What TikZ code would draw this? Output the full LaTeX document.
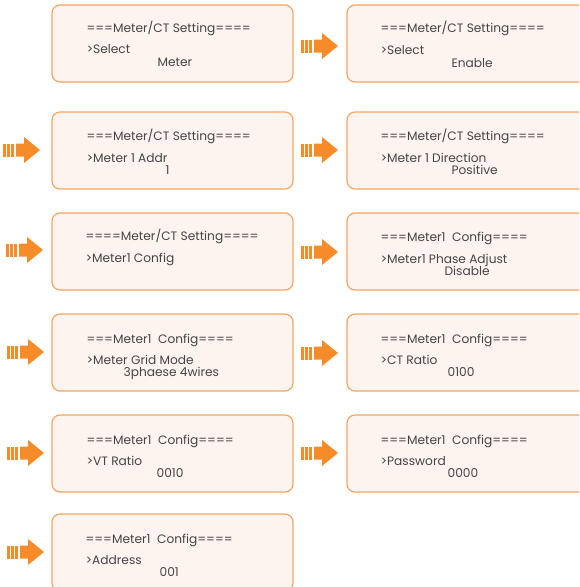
\documentclass[tikz,border=0pt]{standalone}
\usepackage{fontspec}
\setmainfont{Poppins}
\usetikzlibrary{calc}

\definecolor{boxline}{HTML}{F6A560}
\definecolor{boxfill}{HTML}{FDF3EF}
\definecolor{arrowor}{HTML}{F68B2A}
\definecolor{lcdtext}{HTML}{454545}

% striped block arrow, #1 = left end, #2 = centre height
\newcommand{\nextarrow}[2]{%
  \fill[arrowor] (#1,#2-6.5) rectangle ++(3,13);
  \fill[arrowor] (#1+4,#2-6.5) rectangle ++(3,13);
  \fill[arrowor] (#1+8,#2-6.5) rectangle ++(3,13);
  \fill[arrowor] (#1+13,#2-6.5) -- (#1+21,#2-6.5) -- (#1+21,#2-13)
    -- (#1+37,#2) -- (#1+21,#2+13) -- (#1+21,#2+6.5) -- (#1+13,#2+6.5) -- cycle;
}

\begin{document}
\begin{tikzpicture}[x=1pt, y=-1pt,
  screen/.style={draw=boxline, line width=1.2pt, fill=boxfill, rounded corners=8pt,
    minimum width=241pt, minimum height=77pt, inner sep=0pt},
  txt/.style={anchor=base west, inner sep=0pt, text=lcdtext,
    font=\fontsize{12.2}{14}\selectfont}]
  \clip (0,0) rectangle (579,587);
  \useasboundingbox (0,0) rectangle (579,587);

  % Screens, left column
  \node[screen] (s1) at (172.5,43.5) {};
  \node[screen] (s3) at (172.5,150.5) {};
  \node[screen] (s5) at (172.5,251.5) {};
  \node[screen] (s7) at (172.5,352.5) {};
  \node[screen] (s9) at (172.5,453.5) {};
  \node[screen] (s11) at (172.5,552.5) {};
  % Screens, right column
  \node[screen] (s2) at (467.5,43.5) {};
  \node[screen] (s4) at (467.5,150.5) {};
  \node[screen] (s6) at (467.5,251.5) {};
  \node[screen] (s8) at (467.5,352.5) {};
  \node[screen] (s10) at (467.5,453.5) {};

  % Texts
  \node[txt] (s1a) at ($(s1.north west)+(35,28.5)$) {===Meter/CT Setting====};
  \node[txt] (s1b) at ($(s1.north west)+(35,49.5)$) {>Select};
  \node[txt] (s1c) at ($(s1.north west)+(106,62)$) {Meter};

  \node[txt] (s2a) at ($(s2.north west)+(34,28.5)$) {===Meter/CT Setting====};
  \node[txt] (s2b) at ($(s2.north west)+(34,50)$) {>Select};
  \node[txt] (s2c) at ($(s2.north west)+(105,63)$) {Enable};

  \node[txt] (s3a) at ($(s3.north west)+(35,29)$) {===Meter/CT Setting====};
  \node[txt] (s3b) at ($(s3.north west)+(35,51)$) {>Meter 1 Addr};
  \node[txt] (s3c) at ($(s3.north west)+(114,63.5)$) {1};

  \node[txt] (s4a) at ($(s4.north west)+(34,29)$) {===Meter/CT Setting====};
  \node[txt] (s4b) at ($(s4.north west)+(34,51)$) {>Meter 1 Direction};
  \node[txt] (s4c) at ($(s4.north west)+(105,63.5)$) {Positive};

  \node[txt] (s5a) at ($(s5.north west)+(34,28.5)$) {====Meter/CT Setting====};
  \node[txt] (s5b) at ($(s5.north west)+(34,50)$) {>Meter1 Config};

  \node[txt] (s6a) at ($(s6.north west)+(34,29)$) {===Meter1\ \ Config====};
  \node[txt] (s6b) at ($(s6.north west)+(34,51)$) {>Meter1 Phase Adjust};
  \node[txt] (s6c) at ($(s6.north west)+(98,63.5)$) {Disable};

  \node[txt] (s7a) at ($(s7.north west)+(35,30)$) {===Meter1\ \ Config====};
  \node[txt] (s7b) at ($(s7.north west)+(35,51)$) {>Meter Grid Mode};
  \node[txt] (s7c) at ($(s7.north west)+(72,63.5)$) {3phaese 4wires};

  \node[txt] (s8a) at ($(s8.north west)+(34,30)$) {===Meter1\ \ Config====};
  \node[txt] (s8b) at ($(s8.north west)+(34,51)$) {>CT Ratio};
  \node[txt] (s8c) at ($(s8.north west)+(101,63.5)$) {0100};

  \node[txt] (s9a) at ($(s9.north west)+(35,30)$) {===Meter1\ \ Config====};
  \node[txt] (s9b) at ($(s9.north west)+(35,51)$) {>VT Ratio};
  \node[txt] (s9c) at ($(s9.north west)+(105,63.5)$) {0010};

  \node[txt] (s10a) at ($(s10.north west)+(34,30)$) {===Meter1\ \ Config====};
  \node[txt] (s10b) at ($(s10.north west)+(34,51)$) {>Password};
  \node[txt] (s10c) at ($(s10.north west)+(101,63.5)$) {0000};

  \node[txt] (s11a) at ($(s11.north west)+(34,30)$) {===Meter1\ \ Config====};
  \node[txt] (s11b) at ($(s11.north west)+(34,51)$) {>Address};
  \node[txt] (s11c) at ($(s11.north west)+(108,63.5)$) {001};

  % Arrows between the screens
  \nextarrow{301}{46}
  \nextarrow{301}{150}
  \nextarrow{301}{252}
  \nextarrow{301}{353}
  \nextarrow{301}{453}
  \nextarrow{3}{150}
  \nextarrow{6}{250}
  \nextarrow{7}{352}
  \nextarrow{7}{453}
  \nextarrow{7}{552}
\end{tikzpicture}
\end{document}
